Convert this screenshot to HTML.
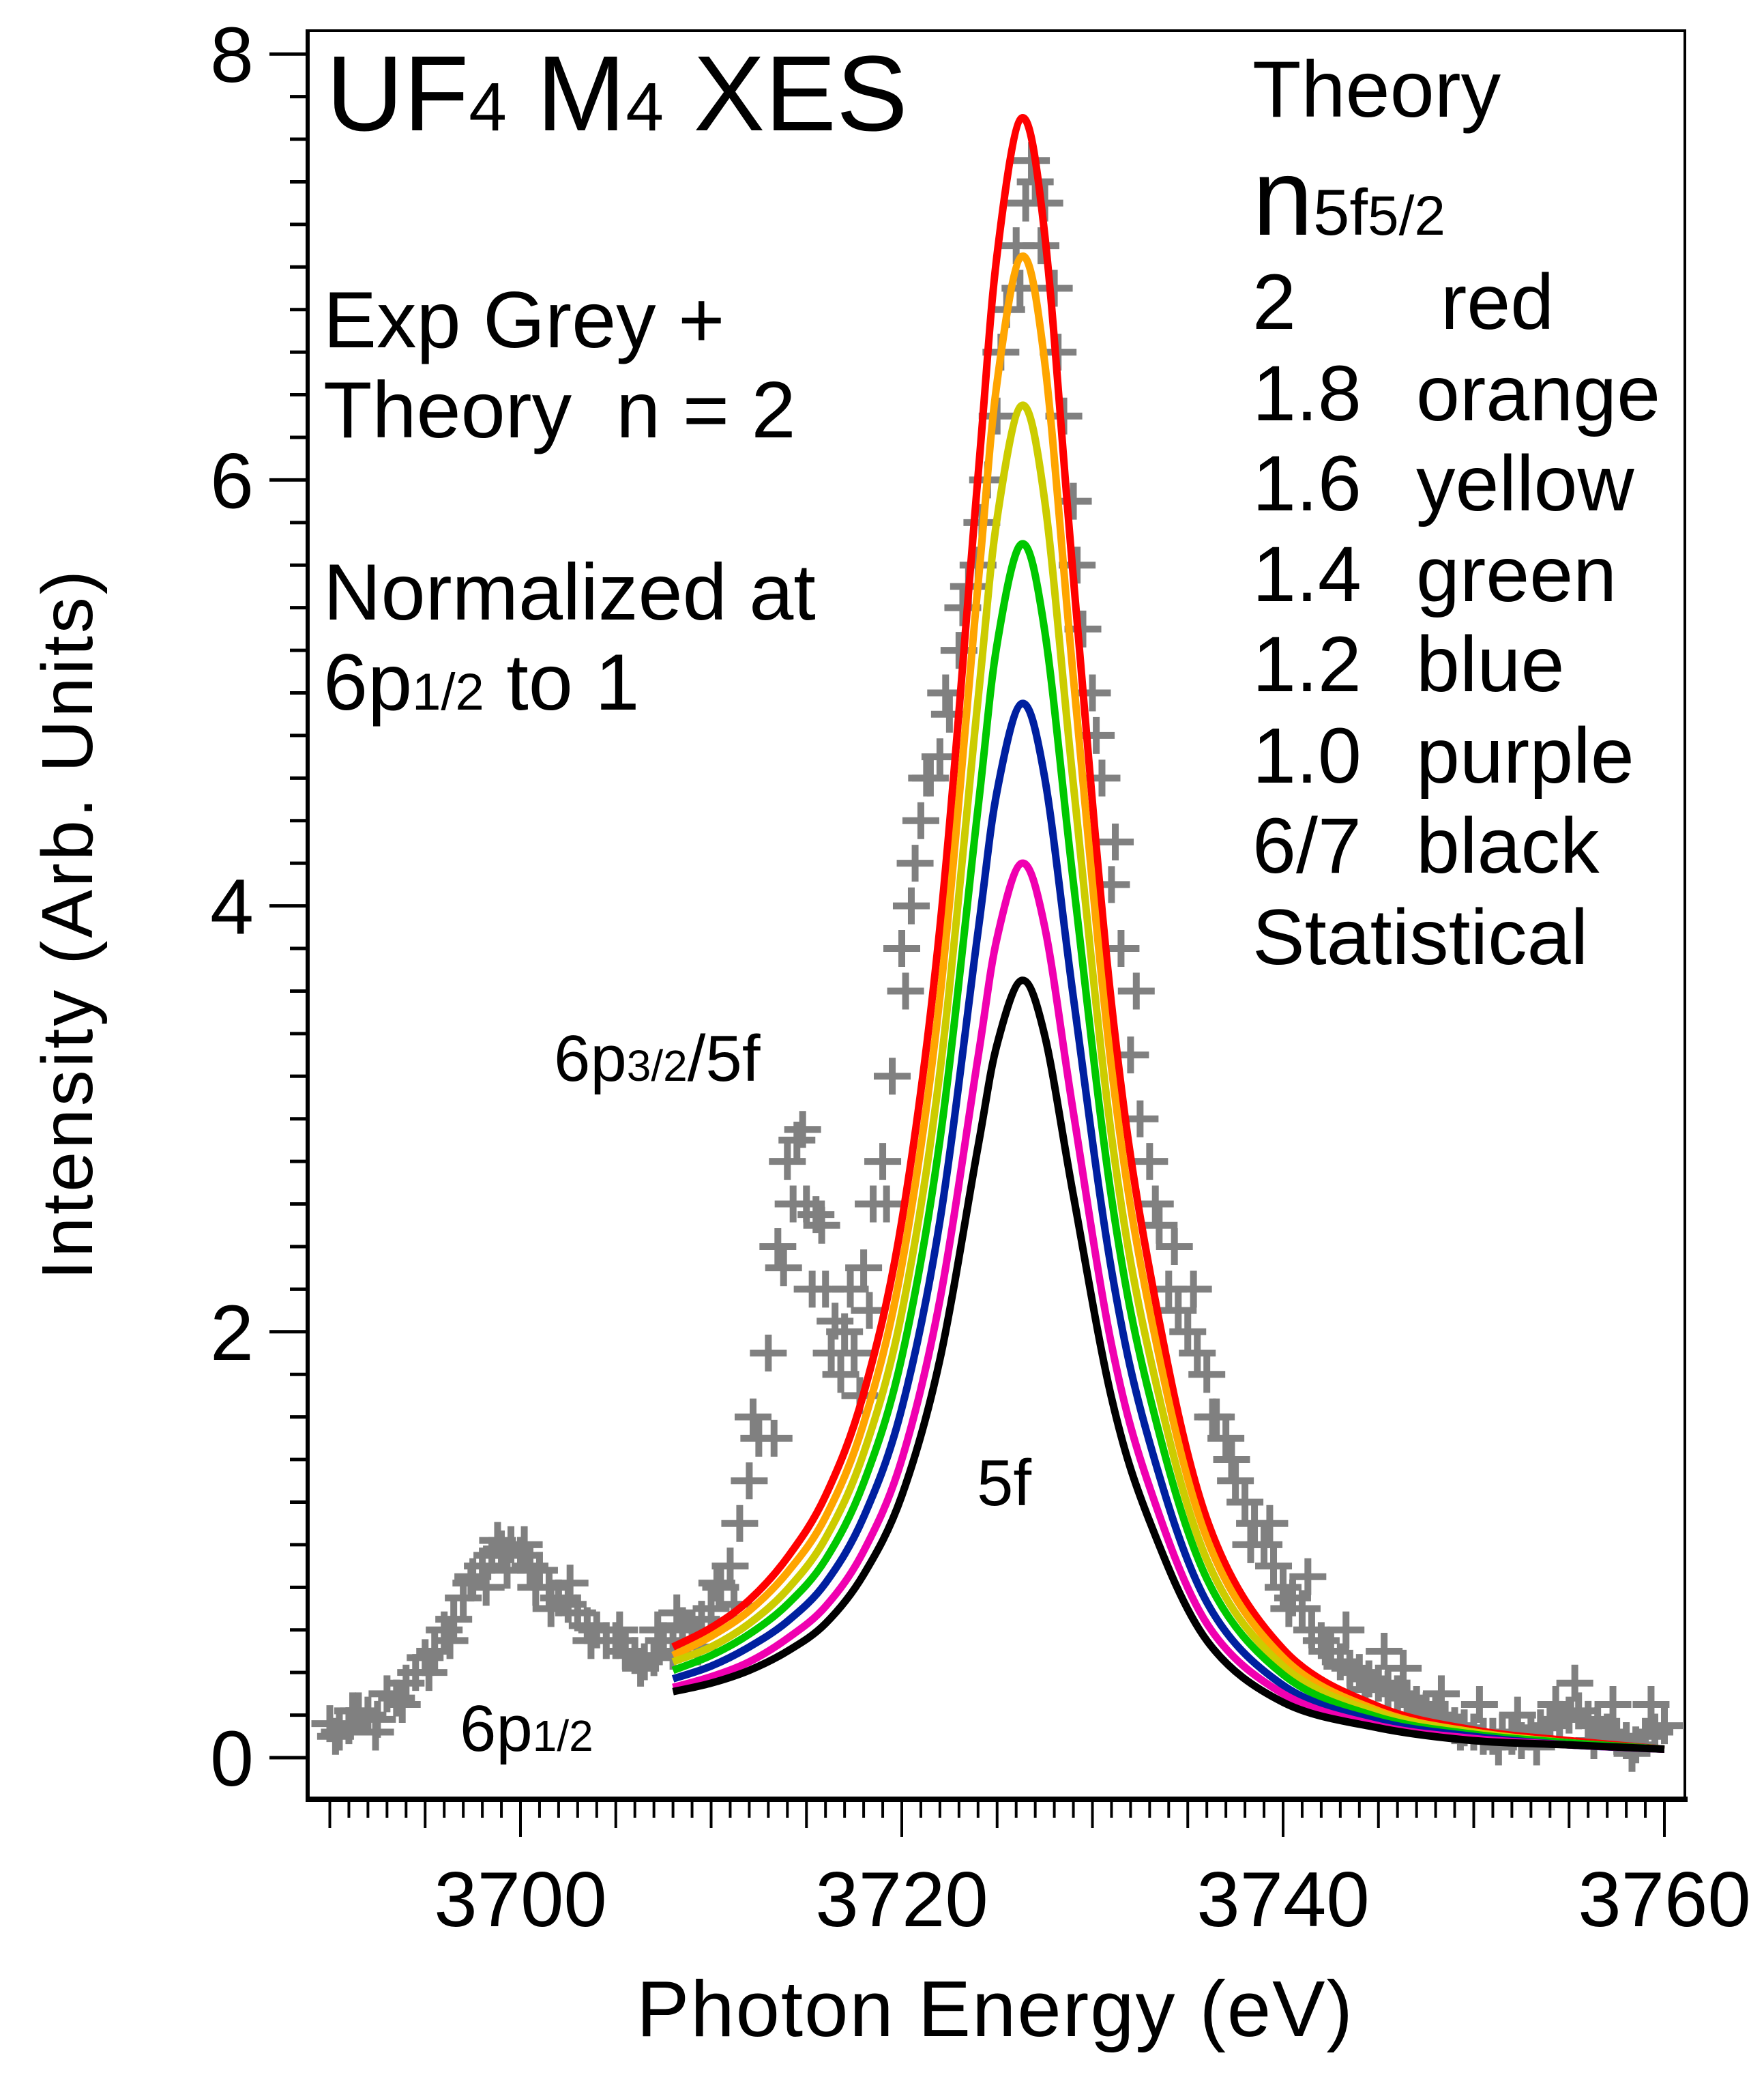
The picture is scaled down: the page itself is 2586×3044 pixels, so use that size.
<!DOCTYPE html>
<html><head><meta charset="utf-8"><style>
html,body{margin:0;padding:0;background:#fff;}
svg{display:block;font-family:"Liberation Sans",sans-serif;}
</style></head><body>
<svg id="chart" width="2586" height="3044" viewBox="0 0 2586 3044">
<g id="expLayer"></g>
<g id="theoryLayer"></g>
<g id="axes"></g>
<g fill="#000">
<text x="478" y="191" font-size="157">UF<tspan font-size="100">4</tspan> M<tspan font-size="100">4</tspan> XES</text>
<text x="474" y="509" font-size="117">Exp Grey +</text>
<text x="474" y="641" font-size="117" xml:space="preserve">Theory  n = 2</text>
<text x="474" y="908" font-size="117">Normalized at</text>
<text x="474" y="1040" font-size="117">6p<tspan font-size="76">1/2</tspan> to 1</text>
<text x="1836" y="171" font-size="117">Theory</text>
<text x="1836" y="344" font-size="160">n<tspan font-size="96">5f</tspan><tspan font-size="82">5/2</tspan></text>
<g font-size="115">
<text x="1836" y="482">2</text><text x="2112" y="482">red</text>
<text x="1836" y="616">1.8</text><text x="2076" y="616">orange</text>
<text x="1836" y="748">1.6</text><text x="2076" y="748">yellow</text>
<text x="1836" y="881">1.4</text><text x="2076" y="881">green</text>
<text x="1836" y="1013">1.2</text><text x="2076" y="1013">blue</text>
<text x="1836" y="1147">1.0</text><text x="2076" y="1147">purple</text>
<text x="1836" y="1279">6/7</text><text x="2076" y="1279">black</text>
<text x="1836" y="1413">Statistical</text>
</g>
<text x="812" y="1584" font-size="96">6p<tspan font-size="64">3/2</tspan>/5f</text>
<text x="1432" y="2206" font-size="96">5f</text>
<text x="674" y="2566" font-size="96">6p<tspan font-size="64">1/2</tspan></text>
<text x="1458" y="2984" font-size="116" text-anchor="middle" textLength="1050">Photon Energy (eV)</text>
<text x="0" y="0" font-size="106" text-anchor="middle" textLength="1040" transform="translate(135,1356) rotate(-90)">Intensity (Arb. Units)</text>
</g>
</svg>
<script>
const xTicksMajor = [3700, 3720, 3740, 3760];
const yTicksMajor = [0, 2, 4, 6, 8];
const theoryX = [3708,3710,3712,3714,3716,3718,3720,3722,3724,3725,3726.3,3727.5,3729,3731,3733,3736,3740,3745,3750,3755,3760];
const theoryRed = [0.52,0.61,0.74,0.94,1.23,1.71,2.52,3.90,6.02,7.06,7.70,7.15,5.54,3.54,2.29,1.12,0.51,0.24,0.13,0.08,0.04];
const theoryOrange = [0.48,0.57,0.69,0.87,1.13,1.57,2.31,3.57,5.51,6.46,7.05,6.55,5.07,3.24,2.10,1.03,0.47,0.22,0.12,0.07,0.04];
const theoryYellow = [0.45,0.52,0.63,0.79,1.03,1.43,2.09,3.22,4.97,5.82,6.35,5.90,4.57,2.92,1.89,0.93,0.43,0.21,0.12,0.07,0.04];
const theoryGreen = [0.41,0.48,0.58,0.72,0.93,1.29,1.88,2.90,4.46,5.23,5.70,5.29,4.11,2.63,1.70,0.84,0.39,0.19,0.11,0.07,0.04];
const theoryBlue = [0.37,0.43,0.52,0.64,0.82,1.13,1.64,2.52,3.88,4.54,4.95,4.60,3.57,2.29,1.48,0.73,0.34,0.17,0.10,0.06,0.04];
const theoryPurple = [0.33,0.38,0.45,0.56,0.71,0.97,1.40,2.15,3.29,3.85,4.20,3.90,3.03,1.94,1.27,0.63,0.30,0.15,0.09,0.06,0.04];
const theoryBlack = [0.31,0.35,0.41,0.50,0.63,0.86,1.23,1.87,2.87,3.35,3.65,3.39,2.64,1.69,1.11,0.55,0.26,0.14,0.08,0.06,0.04];
const expX = [3690,3690.5,3691,3691.5,3692,3692.5,3693,3693.5,3694,3694.5,3695,3695.5,3696,3696.5,3697,3697.5,3698,3698.5,3699,3699.5,3700,3700.5,3701,3701.5,3702,3702.5,3703,3703.5,3704,3704.5,3705,3705.5,3706,3706.5,3707,3707.5,3708,3708.5,3709,3709.5,3710,3710.5,3711,3711.5,3712,3712.5,3713,3713.5,3714,3714.5,3715,3715.5,3716,3716.5,3717,3717.5,3718,3718.5,3719,3719.5,3720,3720.5,3721,3721.5,3722,3722.5,3723,3723.5,3724,3724.5,3725,3725.5,3726,3726.5,3727,3727.5,3728,3728.5,3729,3729.5,3730,3730.5,3731,3731.5,3732,3732.5,3733,3733.5,3734,3734.5,3735,3735.5,3736,3736.5,3737,3737.5,3738,3738.5,3739,3739.5,3740,3740.5,3741,3741.5,3742,3742.5,3743,3743.5,3744,3744.5,3745,3745.5,3746,3746.5,3747,3747.5,3748,3748.5,3749,3749.5,3750,3750.5,3751,3751.5,3752,3752.5,3753,3753.5,3754,3754.5,3755,3755.5,3756,3756.5,3757,3757.5,3758,3758.5,3759,3759.5,3760];
const expY = [0.16,0.12,0.15,0.22,0.2,0.18,0.3,0.28,0.35,0.4,0.47,0.5,0.6,0.65,0.75,0.85,0.9,0.95,0.98,1.0,0.95,0.9,0.88,0.8,0.75,0.72,0.68,0.62,0.6,0.55,0.55,0.5,0.48,0.45,0.47,0.55,0.5,0.62,0.6,0.65,0.7,0.8,0.9,1.1,1.3,1.5,1.9,2.4,2.8,2.9,2.6,2.55,2.2,2.05,2.0,1.9,2.3,2.6,2.8,3.2,3.8,4.0,4.4,4.6,4.7,4.9,5.2,5.5,5.6,6.0,6.3,6.8,7.1,7.3,7.4,7.3,6.9,6.3,5.9,5.3,5.0,4.6,4.1,3.8,3.3,3.0,2.8,2.5,2.2,2.1,2.0,1.9,1.8,1.6,1.5,1.3,1.2,1.1,1.0,0.9,0.8,0.75,0.7,0.6,0.55,0.5,0.45,0.42,0.4,0.37,0.35,0.32,0.3,0.28,0.25,0.22,0.2,0.18,0.15,0.14,0.12,0.1,0.1,0.12,0.1,0.08,0.12,0.14,0.15,0.18,0.2,0.22,0.18,0.15,0.12,0.1,0.08,0.06,0.1,0.12,0.15];
const expX2 = [3690.3,3691.2,3692.4,3693.8,3695.2,3696.3,3697.4,3698.2,3698.8,3699.3,3700.2,3700.8,3701.6,3702.6,3703.7,3705.2,3706.3,3707.2,3708.2,3709.3,3710.3,3711.2,3712.2,3713.3,3713.8,3714.3,3714.8,3715.3,3715.8,3716.3,3716.8,3717.3,3717.8,3718.3,3719.2,3720.2,3720.7,3721.3,3722.3,3723.2,3724.2,3725.2,3726.2,3726.8,3727.3,3728.2,3729.2,3730.2,3731.2,3732.3,3733.3,3734.3,3735.3,3736.3,3737.3,3738.3,3739.3,3740.3,3741.3,3742.3,3743.3,3744.3,3745.3,3746.3,3747.3,3748.3,3749.3,3750.3,3751.3,3752.3,3753.3,3754.3,3755.3,3756.3,3757.3,3758.3,3759.3];
const expY2 = [0.1,0.22,0.12,0.25,0.4,0.55,0.82,0.8,1.02,0.88,1.0,0.8,0.7,0.82,0.55,0.6,0.42,0.6,0.68,0.52,0.82,0.72,1.6,1.5,2.3,2.6,2.95,2.2,2.5,1.9,1.8,2.2,1.7,2.1,2.6,3.6,4.2,4.6,5.0,5.4,5.8,6.6,6.9,7.5,7.1,6.6,5.6,4.8,4.3,3.6,2.6,2.4,2.2,1.6,1.4,1.0,1.1,0.7,0.85,0.5,0.6,0.32,0.5,0.42,0.2,0.3,0.12,0.25,0.05,0.2,0.05,0.25,0.35,0.08,0.25,0.02,0.25];

const NS = 'http://www.w3.org/2000/svg';
function X(e){ return 763 + (e - 3700) * 27.95; }
function Y(v){ return 2576 - v * 312.1; }
function mk(tag, attrs, parent){ const el = document.createElementNS(NS, tag); for (const k in attrs) el.setAttribute(k, attrs[k]); parent.appendChild(el); return el; }

const expLayer = document.getElementById('expLayer');
function drawPlus(xv, yv){
  const cx = X(xv), cy = Y(yv), h = 27;
  const p = mk('path', {d: `M${cx-h},${cy}H${cx+h}M${cx},${cy-h}V${cy+h}`, stroke: '#808080', 'stroke-width': 10, fill: 'none'}, expLayer);
  
  
}
for (let i = 0; i < expX.length; i++) drawPlus(expX[i], expY[i]);
for (let i = 0; i < expX2.length; i++) drawPlus(expX2[i], expY2[i]);

const theoryLayer = document.getElementById('theoryLayer');
const series = [
  ['red', theoryRed, '#ff0000'],
  ['orange', theoryOrange, '#ffa500'],
  ['yellow', theoryYellow, '#cccc00'],
  ['green', theoryGreen, '#00c800'],
  ['blue', theoryBlue, '#0020a0'],
  ['purple', theoryPurple, '#f000b0'],
  ['black', theoryBlack, '#000000']
];
function smoothPath(xs, ys){
  const pts = xs.map((x, i) => [X(x), Y(ys[i])]);
  let d = `M${pts[0][0]},${pts[0][1]}`;
  for (let i = 0; i < pts.length - 1; i++) {
    const p0 = pts[Math.max(0, i-1)], p1 = pts[i], p2 = pts[i+1], p3 = pts[Math.min(pts.length-1, i+2)];
    const c1x = p1[0] + (p2[0]-p0[0])/6, c1y = p1[1] + (p2[1]-p0[1])/6;
    const c2x = p2[0] - (p3[0]-p1[0])/6, c2y = p2[1] - (p3[1]-p1[1])/6;
    d += `C${c1x},${c1y} ${c2x},${c2y} ${p2[0]},${p2[1]}`;
  }
  return d;
}
for (const s of series) {
  const p = mk('path', {d: smoothPath(theoryX, s[1]), stroke: s[2], 'stroke-width': 11, fill: 'none', 'stroke-linejoin': 'round'}, theoryLayer);
  
  
}

const axes = document.getElementById('axes');
const frame = mk('rect', {x: 451, y: 45, width: 2019, height: 2592, fill: 'none', stroke: '#000', 'stroke-width': 4}, axes);


const la = mk('line', {x1: 451, y1: 43, x2: 451, y2: 2640, stroke: '#000', 'stroke-width': 6}, axes);


const ba = mk('line', {x1: 448, y1: 2637, x2: 2474, y2: 2637, stroke: '#000', 'stroke-width': 8}, axes);


for (let e = 3690; e <= 3760; e++) {
  const len = (xTicksMajor.includes(e)) ? 55 : (e % 5 === 0 ? 42 : 27);
  const t = mk('line', {x1: X(e), y1: 2637, x2: X(e), y2: 2637 + len, stroke: '#000', 'stroke-width': 4}, axes);
  
  
}
for (const e of xTicksMajor) {
  const t = mk('text', {x: X(e), y: 2823, 'font-size': 114, 'text-anchor': 'middle'}, axes);
  t.textContent = e;
  
  
}
for (let k = 0; k <= 40; k++) {
  const v = k * 0.2, major = (k % 10 === 0);
  const t = mk('line', {x1: major ? 395 : 425, y1: Y(v), x2: 451, y2: Y(v), stroke: '#000', 'stroke-width': 5}, axes);
  
  
}
for (const v of yTicksMajor) {
  const t = mk('text', {x: 372, y: Y(v) + 41, 'font-size': 115, 'text-anchor': 'end'}, axes);
  t.textContent = v;
  
  
}
</script>
</body></html>
